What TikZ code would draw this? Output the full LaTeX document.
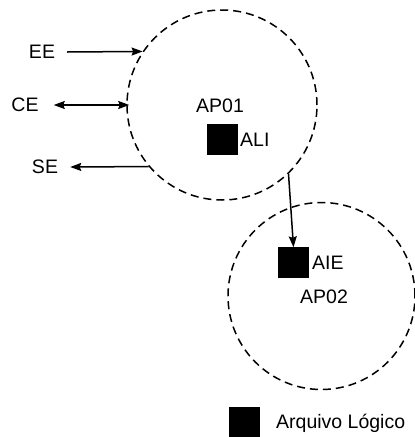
\documentclass[tikz,border=0pt]{standalone}
\usepackage{fontspec}
\setmainfont{Liberation Sans}
\usetikzlibrary{arrows.meta}
\begin{document}
\begin{tikzpicture}[x=1pt,y=-1pt,
  lbl/.style={inner sep=0pt, font=\fontsize{19.5}{22}\selectfont},
  region/.style={draw, circle, dash pattern=on 8pt off 5pt, line width=1.5pt, inner sep=0pt},
  filebox/.style={draw, fill=black, minimum size=30pt, inner sep=0pt},
  conn/.style={line width=1.5pt, -{Stealth[length=11pt,width=8pt,inset=1.5pt]}},
  biconn/.style={line width=1.5pt, {Stealth[length=11pt,width=8pt,inset=1.5pt]}-{Stealth[length=11pt,width=8pt,inset=1.5pt]}}]
\useasboundingbox (0,0) rectangle (415,437);
\node[region, minimum size=190pt] (c1) at (222,105) {};
\node[region, minimum size=187pt] (c2) at (321.5,296) {};
\node[filebox] (ali) at (222,139) {};
\node[filebox] (aie) at (293.5,262.5) {};
\node[filebox] (leg) at (244.5,422) {};
\node[lbl] (ap01) at (220,106) {AP01};
\node[lbl, anchor=west] (alit) at (240,140) {ALI};
\node[lbl, anchor=west] (aiet) at (312,263) {AIE};
\node[lbl] (ap02) at (324,297) {AP02};
\node[lbl, anchor=west] (legt) at (276,423) {Arquivo Lógico};
\node[lbl] (ee) at (42,52) {EE};
\node[lbl] (ce) at (25,105) {CE};
\node[lbl] (se) at (45,167) {SE};
\coordinate (eeend) at (c1.146);
\coordinate (ceend) at ([xshift=3pt]c1.180);
\coordinate (seend) at (c1.220);
\draw[conn] ([xshift=12pt]ee.east) -- (eeend);
\draw[biconn] ([xshift=15pt]ce.east) -- (ceend);
\draw[conn] (seend) -- ([xshift=12pt]se.east);
\draw[conn] (c1.-46) -- (aie.north);
\end{tikzpicture}
\end{document}
